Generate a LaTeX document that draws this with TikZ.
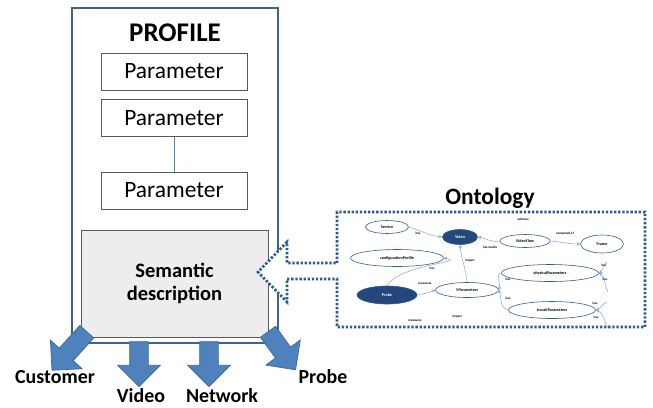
\documentclass[tikz,border=0pt]{standalone}
\usepackage{fontspec}
\setmainfont{Carlito}
\usetikzlibrary{positioning,shapes.geometric,shapes.arrows,arrows.meta}
\definecolor{frameblue}{HTML}{3B6393}
\definecolor{arrowblue}{HTML}{4F81BD}
\definecolor{arrowedge}{HTML}{3A6A9E}
\definecolor{ontoblue}{HTML}{2E5C92}
\definecolor{ontodark}{HTML}{24487B}
\definecolor{linkblue}{HTML}{8FB1D8}
\definecolor{boxgray}{HTML}{EDEDED}
\tikzset{
    profile-frame/.style = {draw=frameblue, line width=1.6pt, rectangle, minimum width=6.18cm, minimum height=10.05cm},
    title-text/.style = {font=\fontsize{23}{26}\selectfont\bfseries},
    param-box/.style = {draw=black!65, fill=white, thin, rectangle, inner sep=0pt, minimum width=4.38cm, minimum height=1.11cm, font=\fontsize{20}{24}\selectfont},
    param-link/.style = {draw=arrowblue, thin},
    semantic-box/.style = {draw=black!65, fill=boxgray, thin, rectangle, align=center, inner sep=0pt, minimum width=5.61cm, minimum height=3.21cm, font=\fontsize{17.5}{19.5}\selectfont\bfseries},
    onto-outline/.style = {draw=ontoblue, fill=white, line width=2.3pt, dash pattern=on 2pt off 1.5pt},
    onto-node/.style = {draw=ontoblue, fill=white, ellipse, line width=0.5pt, inner sep=0pt, font=\fontsize{3.5}{4}\selectfont\bfseries},
    onto-dark/.style = {onto-node, fill=ontodark, text=white},
    onto-link/.style = {draw=linkblue, line width=0.5pt, -{Stealth[length=3pt,width=3pt]}},
    edge-label/.style = {inner sep=0pt, font=\fontsize{2.8}{3}\selectfont\bfseries},
    block-arrow/.style = {single arrow, draw=arrowedge, fill=arrowblue, line width=0.6pt, inner xsep=0pt, inner ysep=0.27cm, minimum width=1.26cm, single arrow head extend=0.36cm, single arrow tip angle=90},
    out-label/.style = {font=\fontsize{17}{20}\selectfont\bfseries},
}
\begin{document}
\begin{tikzpicture}[x=0.03cm, y=-0.03cm]
\useasboundingbox (0,0) rectangle (653,407);

\node[profile-frame] (profile) at (175,175.5) {};
\node[title-text] (ptitle) at (175,33) {PROFILE};
\node[param-box] (param1) at (174,71.5) {Parameter};
\node[param-box, below=0.27cm of param1] (param2) {Parameter};
\node[param-box, below=1.05cm of param2] (param3) {Parameter};
\draw[param-link] (param2) -- (param3);
\node[semantic-box] (semantic) at (174.5,283.5) {Semantic\\description};

% outputs of the profile
\node[block-arrow, minimum height=1.56cm, rotate=-132] (tocust) at (72.5,347.5) {};
\node[block-arrow, minimum height=1.35cm, rotate=-90] (tovideo) at (139,359.5) {};
\node[block-arrow, minimum height=1.35cm, rotate=-90] (tonet) at (209,359.5) {};
\node[block-arrow, minimum height=1.41cm, rotate=-54] (toprobe) at (279,347) {};
\node[out-label] (customer) at (55,377) {Customer};
\node[out-label] (lblvideo) at (141,396) {Video};
\node[out-label] (network) at (222,396) {Network};
\node[out-label] (lblprobe) at (323,377) {Probe};

% ontology panel
\draw[onto-outline] (337,263) -- (337,212) -- (645,212) -- (645,327) -- (337,327) -- (337,279)
    -- (287,279) -- (287,302) -- (258,272) -- (287,242) -- (287,263) -- cycle;
\node[font=\fontsize{20}{24}\selectfont\bfseries] (ontotitle) at (490,198) {Ontology};

\node[onto-node, minimum width=1.29cm, minimum height=0.39cm] (service) at (387,227) {Service};
\node[onto-dark, minimum width=1.05cm, minimum height=0.45cm] (ovideo) at (460,237) {Video};
\node[onto-node, minimum width=1.5cm, minimum height=0.39cm] (vflow) at (525,241) {VideoFlow};
\node[onto-node, minimum width=1.29cm, minimum height=0.54cm] (frame) at (602,244) {Frame};
\node[onto-node, minimum width=2.79cm, minimum height=0.51cm] (config) at (397,258) {configurationProfile};
\node[onto-dark, minimum width=1.8cm, minimum height=0.54cm] (oprobe) at (387,295) {Probe};
\node[onto-node, minimum width=1.89cm, minimum height=0.45cm] (vparams) at (467,290) {VParameters};
\node[onto-node, minimum width=2.91cm, minimum height=0.51cm] (phys) at (550,273) {physicalParameters};
\node[onto-node, minimum width=2.61cm, minimum height=0.51cm] (transit) at (552,310) {transitParameters};

\coordinate (physin1) at (607,262);
\coordinate (physin2) at (608,292);
\coordinate (transin1) at (607,302);
\coordinate (transin2) at (608,328);

\draw[onto-link] (service.east) to[out=-15,in=175] (ovideo.west);
\draw[onto-link] (vflow.west) to[out=190,in=-10] (ovideo.east);
\draw[onto-link] (vflow.east) to[out=-5,in=180] (frame.west);
\draw[onto-link] (vparams.north) to[out=95,in=-85] (ovideo.south);
\draw[onto-link] (oprobe.north) to[out=60,in=-10] (config.east);
\draw[onto-link] (oprobe.east) to[out=10,in=200] (vparams.west);
\draw[onto-link] (phys.west) to[out=200,in=70] (vparams.east);
\draw[onto-link] (transit.west) to[out=170,in=-70] (vparams.east);
\draw[onto-link] (physin1) to[out=200,in=30] (phys.east);
\draw[onto-link] (physin2) to[out=120,in=-30] (phys.east);
\draw[onto-link] (transin1) to[out=200,in=20] (transit.east);
\draw[onto-link] (transin2) to[out=120,in=-20] (transit.east);

\node[edge-label] (l1) at (418,233) {has};
\node[edge-label] (l2) at (490,247) {has media};
\node[edge-label] (l3) at (565,234) {composed of};
\node[edge-label] (l4) at (523,219) {subclass};
\node[edge-label] (l5) at (470,261) {impact};
\node[edge-label] (l6) at (432,268) {has};
\node[edge-label] (l7) at (425,284) {measures};
\node[edge-label] (l8) at (508,279) {has};
\node[edge-label] (l9) at (508,298) {has};
\node[edge-label] (l10) at (604,265) {has};
\node[edge-label] (l11) at (605,279) {has};
\node[edge-label] (l12) at (595,303) {has};
\node[edge-label] (l13) at (596,317) {has};
\node[edge-label] (l14) at (415,321) {measures};
\node[edge-label] (l15) at (457,317) {impact};
\end{tikzpicture}
\end{document}
